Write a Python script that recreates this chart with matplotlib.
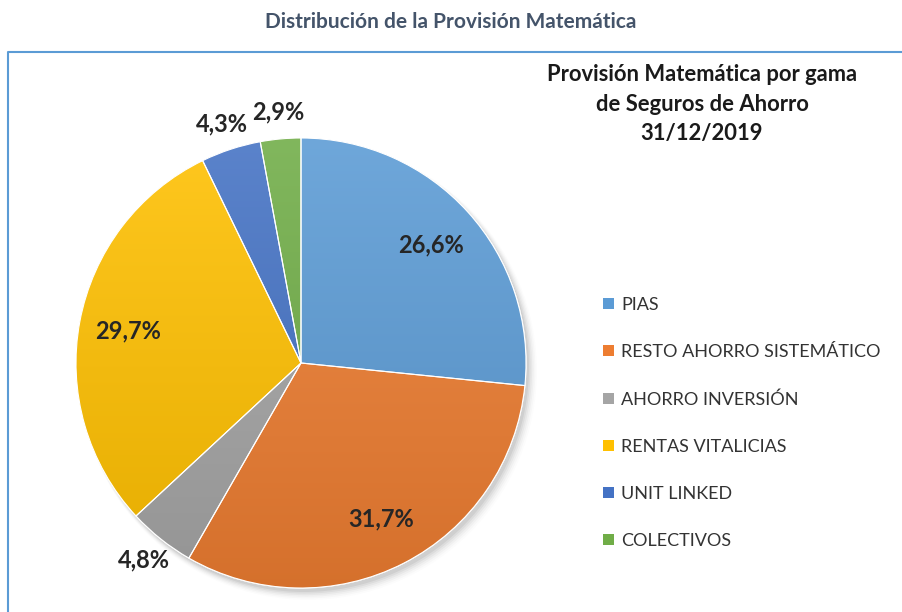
import numpy as np
import matplotlib
matplotlib.use("Agg")
import matplotlib.pyplot as plt
from matplotlib.colors import to_rgb
from matplotlib.patches import Circle, Wedge, Patch

categories = ["PIAS", "RESTO AHORRO SISTEMÁTICO", "AHORRO INVERSIÓN",
              "RENTAS VITALICIAS", "UNIT LINKED", "COLECTIVOS"]
values = [26.6, 31.7, 4.8, 29.7, 4.3, 2.9]
value_labels = ["26,6%", "31,7%", "4,8%", "29,7%", "4,3%", "2,9%"]
colors = ["#5B9BD5", "#ED7D31", "#A5A5A5", "#FFC000", "#4472C4", "#70AD47"]

title = "Distribución de la Provisión Matemática"
subtitle = "Provisión Matemática por gama\nde Seguros de Ahorro\n31/12/2019"

plt.rcParams['font.family'] = ['Lato', 'DejaVu Sans']

W, H = 902, 612
fig = plt.figure(figsize=(W / 100, H / 100), dpi=100)
ax = fig.add_axes([0, 0, 1, 1])

cx, cy, R = 301, H - 363, 225

# soft shadow
for i, a in enumerate(np.linspace(0.05, 0.01, 6)):
    ax.add_patch(Circle((cx + 3 + i * 0.8, cy - 4 - i * 0.8), R + i * 0.8,
                        color="black", alpha=a, lw=0, zorder=1))

wedges, _ = ax.pie(values, colors=colors, startangle=90, counterclock=False,
                   center=(cx, cy), radius=R,
                   wedgeprops=dict(linewidth=0.8, edgecolor="white"))

# vertical gradient in each wedge
grad = np.linspace(0, 1, 256)[:, None]
for w, c in zip(wedges, colors):
    w.set_zorder(2)
    base = np.array(to_rgb(c))
    top = base + (1 - base) * 0.12
    bot = base * 0.90
    img = top[None, None, :] * (1 - grad[:, :, None]) + bot[None, None, :] * grad[:, :, None]
    im = ax.imshow(img, extent=(cx - R, cx + R, cy - R, cy + R), origin="upper",
                   zorder=3, aspect="auto", interpolation="bilinear")
    im.set_clip_path(w)

for w in wedges:
    ax.add_patch(Wedge((cx, cy), R, w.theta1, w.theta2, facecolor="none",
                       edgecolor="white", lw=0.8, zorder=4))

# value labels
for w, lab, v in zip(wedges, value_labels, values):
    ang = np.deg2rad((w.theta1 + w.theta2) / 2)
    r = R * (1.12 if v < 5 else 0.78)
    ax.text(cx + r * np.cos(ang), cy + r * np.sin(ang), lab, ha="center", va="center",
            fontsize=17, fontweight="bold", color="#262626", zorder=5)

ax.set_xlim(0, W)
ax.set_ylim(0, H)
ax.set_aspect("equal")
ax.axis("off")

# frame
ax.plot([8, 8, W + 5], [-5, H - 52, H - 52], color="#5B9BD5", lw=1.5,
        solid_capstyle="butt", zorder=0, clip_on=False)

fig.text(451 / W, 1 - 22 / H, title, ha="center", va="center", fontsize=15,
         fontweight="bold", color="#44546A")
fig.text(702 / W, 1 - 104 / H, subtitle, ha="center", va="center", fontsize=15.8,
         fontweight="bold", color="#1a1a1a", linespacing=1.48)

# legend
handles = [Patch(facecolor=c, edgecolor="none") for c in colors]
fig.legend(handles, categories, loc="upper left", bbox_to_anchor=(603 / W, 1 - 297 / H),
           frameon=False, fontsize=13, labelspacing=1.72, handlelength=0.6,
           handleheight=0.6, handletextpad=0.4, borderpad=0, borderaxespad=0,
           labelcolor="#333333")

fig.savefig("out.png", dpi=100, facecolor="white")
